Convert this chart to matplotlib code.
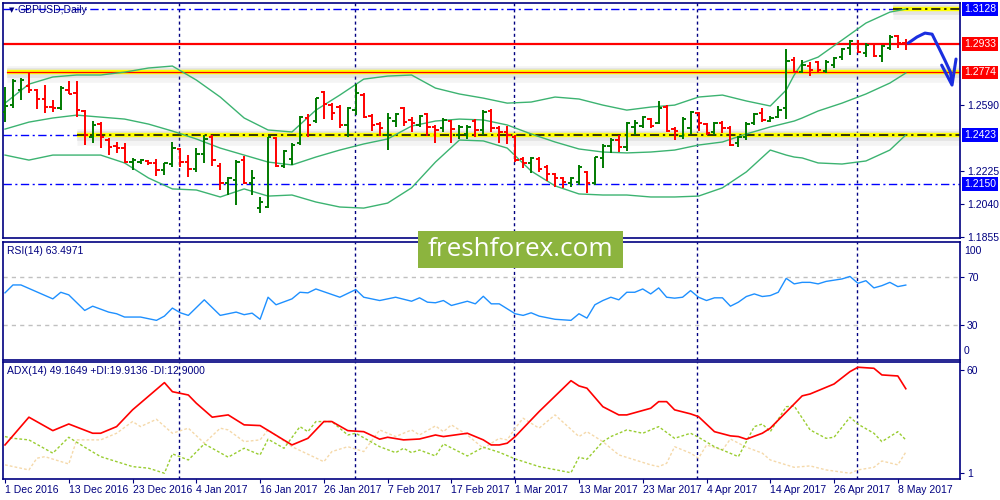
import matplotlib
matplotlib.use('Agg')
import matplotlib.pyplot as plt
import matplotlib.transforms as mtransforms
from matplotlib.patches import Rectangle

plt.rcParams['font.family'] = ['Liberation Sans', 'DejaVu Sans']

# ---- data (GBPUSD daily, 1 Dec 2016 - 9 May 2017) ----
date_labels = ['1 Dec 2016', '13 Dec 2016', '23 Dec 2016', '4 Jan 2017', '16 Jan 2017',
               '26 Jan 2017', '7 Feb 2017', '17 Feb 2017', '1 Mar 2017', '13 Mar 2017',
               '23 Mar 2017', '4 Apr 2017', '14 Apr 2017', '26 Apr 2017', '8 May 2017']
label_idx = [0, 8, 16, 24, 32, 40, 48, 56, 64, 72, 80, 88, 96, 104, 112]
month_starts = [22, 44, 64, 87, 107]

opens = [1.2553, 1.2592, 1.2676, 1.2698, 1.2676, 1.2626, 1.2581, 1.2576, 1.2676, 1.2659,
         1.2559, 1.2414, 1.2486, 1.2397, 1.2364, 1.2352, 1.2274, 1.2274, 1.2280, 1.2269,
         1.2230, 1.2263, 1.2347, 1.2274, 1.2235, 1.2319, 1.2414, 1.2252, 1.2157, 1.2174,
         1.2285, 1.2157, 1.2017, 1.2023, 1.2408, 1.2252, 1.2291, 1.2380, 1.2520, 1.2503,
         1.2665, 1.2592, 1.2581, 1.2481, 1.2564, 1.2648, 1.2531, 1.2486, 1.2425, 1.2503,
         1.2576, 1.2509, 1.2481, 1.2542, 1.2470, 1.2464, 1.2503, 1.2425, 1.2431, 1.2503,
         1.2453, 1.2559, 1.2464, 1.2442, 1.2414, 1.2291, 1.2269, 1.2291, 1.2246, 1.2208,
         1.2185, 1.2157, 1.2163, 1.2219, 1.2157, 1.2297, 1.2364, 1.2397, 1.2358, 1.2470,
         1.2475, 1.2514, 1.2492, 1.2581, 1.2458, 1.2419, 1.2464, 1.2548, 1.2486, 1.2442,
         1.2492, 1.2464, 1.2380, 1.2414, 1.2492, 1.2548, 1.2503, 1.2525, 1.2576, 1.2843,
         1.2776, 1.2810, 1.2832, 1.2782, 1.2815, 1.2860, 1.2910, 1.2933, 1.2883, 1.2933,
         1.2866, 1.2910, 1.2977, 1.2938]
highs = [1.2693, 1.2737, 1.2743, 1.2771, 1.2682, 1.2704, 1.2620, 1.2698, 1.2726, 1.2726,
         1.2564, 1.2503, 1.2497, 1.2408, 1.2386, 1.2380, 1.2297, 1.2291, 1.2285, 1.2291,
         1.2269, 1.2386, 1.2352, 1.2313, 1.2352, 1.2425, 1.2425, 1.2269, 1.2191, 1.2285,
         1.2308, 1.2230, 1.2079, 1.2414, 1.2414, 1.2341, 1.2380, 1.2531, 1.2542, 1.2631,
         1.2670, 1.2603, 1.2592, 1.2581, 1.2709, 1.2659, 1.2542, 1.2497, 1.2548, 1.2548,
         1.2581, 1.2525, 1.2536, 1.2548, 1.2481, 1.2520, 1.2509, 1.2481, 1.2481, 1.2514,
         1.2564, 1.2570, 1.2475, 1.2475, 1.2425, 1.2302, 1.2302, 1.2302, 1.2258, 1.2213,
         1.2191, 1.2191, 1.2258, 1.2224, 1.2302, 1.2375, 1.2408, 1.2425, 1.2497, 1.2509,
         1.2531, 1.2520, 1.2615, 1.2592, 1.2470, 1.2525, 1.2559, 1.2553, 1.2492, 1.2497,
         1.2503, 1.2475, 1.2419, 1.2497, 1.2548, 1.2576, 1.2531, 1.2587, 1.2905, 1.2860,
         1.2843, 1.2832, 1.2838, 1.2843, 1.2860, 1.2910, 1.2955, 1.2955, 1.2938, 1.2938,
         1.2927, 1.2983, 1.2983, 1.2961]
lows = [1.2497, 1.2576, 1.2620, 1.2659, 1.2570, 1.2548, 1.2553, 1.2564, 1.2654, 1.2525,
        1.2369, 1.2380, 1.2352, 1.2313, 1.2325, 1.2269, 1.2230, 1.2263, 1.2258, 1.2196,
        1.2202, 1.2246, 1.2246, 1.2191, 1.2219, 1.2269, 1.2252, 1.2118, 1.2090, 1.2034,
        1.2152, 1.2090, 1.1990, 1.2017, 1.2246, 1.2241, 1.2258, 1.2369, 1.2414, 1.2492,
        1.2514, 1.2509, 1.2464, 1.2414, 1.2536, 1.2520, 1.2447, 1.2419, 1.2341, 1.2470,
        1.2475, 1.2442, 1.2470, 1.2419, 1.2380, 1.2442, 1.2380, 1.2403, 1.2403, 1.2414,
        1.2425, 1.2442, 1.2380, 1.2375, 1.2274, 1.2241, 1.2213, 1.2219, 1.2169, 1.2135,
        1.2130, 1.2135, 1.2146, 1.2101, 1.2146, 1.2241, 1.2325, 1.2330, 1.2336, 1.2425,
        1.2464, 1.2464, 1.2486, 1.2442, 1.2397, 1.2403, 1.2431, 1.2447, 1.2425, 1.2425,
        1.2436, 1.2364, 1.2358, 1.2397, 1.2481, 1.2497, 1.2497, 1.2520, 1.2514, 1.2771,
        1.2771, 1.2754, 1.2771, 1.2771, 1.2799, 1.2843, 1.2871, 1.2883, 1.2860, 1.2860,
        1.2832, 1.2899, 1.2910, 1.2899]
closes = [1.2587, 1.2726, 1.2732, 1.2676, 1.2626, 1.2581, 1.2576, 1.2687, 1.2654, 1.2564,
          1.2425, 1.2481, 1.2414, 1.2358, 1.2352, 1.2274, 1.2285, 1.2285, 1.2269, 1.2230,
          1.2269, 1.2352, 1.2274, 1.2235, 1.2319, 1.2403, 1.2285, 1.2157, 1.2185, 1.2274,
          1.2157, 1.2185, 1.2051, 1.2414, 1.2252, 1.2336, 1.2369, 1.2525, 1.2481, 1.2631,
          1.2598, 1.2548, 1.2481, 1.2576, 1.2659, 1.2525, 1.2481, 1.2464, 1.2520, 1.2542,
          1.2497, 1.2492, 1.2531, 1.2470, 1.2453, 1.2509, 1.2458, 1.2470, 1.2470, 1.2453,
          1.2553, 1.2464, 1.2442, 1.2425, 1.2285, 1.2269, 1.2297, 1.2235, 1.2208, 1.2185,
          1.2163, 1.2185, 1.2246, 1.2157, 1.2302, 1.2364, 1.2397, 1.2358, 1.2492, 1.2492,
          1.2525, 1.2475, 1.2576, 1.2447, 1.2447, 1.2514, 1.2553, 1.2492, 1.2436, 1.2492,
          1.2464, 1.2369, 1.2414, 1.2486, 1.2542, 1.2509, 1.2520, 1.2564, 1.2838, 1.2776,
          1.2815, 1.2788, 1.2788, 1.2832, 1.2855, 1.2905, 1.2949, 1.2888, 1.2927, 1.2866,
          1.2922, 1.2972, 1.2938, 1.2933]

# Bollinger bands (read at sampled bars)
bb_idx = [0, 3, 6, 9, 12, 15, 18, 21, 24, 27, 30, 33, 36, 39, 42, 45, 48, 51, 54, 57,
          60, 63, 66, 69, 72, 75, 78, 81, 84, 87, 90, 93, 96, 98, 99, 100, 102, 105, 108, 111, 113]
bb_upper = [1.2603, 1.2709, 1.2749, 1.2760, 1.2760, 1.2776, 1.2799, 1.2810, 1.2732, 1.2637,
            1.2520, 1.2453, 1.2442, 1.2564, 1.2648, 1.2737, 1.2754, 1.2760, 1.2687, 1.2654,
            1.2631, 1.2603, 1.2609, 1.2637, 1.2626, 1.2592, 1.2564, 1.2581, 1.2592, 1.2637,
            1.2648, 1.2615, 1.2587, 1.2676, 1.2760, 1.2827, 1.2860, 1.2955, 1.3050, 1.3111, 1.3128]
bb_mid = [1.2458, 1.2497, 1.2520, 1.2536, 1.2525, 1.2514, 1.2486, 1.2447, 1.2403, 1.2352,
          1.2313, 1.2274, 1.2258, 1.2302, 1.2341, 1.2375, 1.2403, 1.2475, 1.2503, 1.2514,
          1.2509, 1.2481, 1.2431, 1.2386, 1.2347, 1.2330, 1.2325, 1.2330, 1.2341, 1.2369,
          1.2386, 1.2431, 1.2470, 1.2492, 1.2503, 1.2520, 1.2559, 1.2603, 1.2654, 1.2715, 1.2771]
bb_lower = [1.2313, 1.2285, 1.2313, 1.2313, 1.2313, 1.2269, 1.2185, 1.2124, 1.2118, 1.2079,
            1.2124, 1.2084, 1.2090, 1.2051, 1.2023, 1.2017, 1.2045, 1.2130, 1.2274, 1.2397,
            1.2392, 1.2352, 1.2224, 1.2141, 1.2096, 1.2090, 1.2090, 1.2079, 1.2079, 1.2084,
            1.2130, 1.2219, 1.2341, 1.2313, 1.2302, 1.2297, 1.2269, 1.2263, 1.2280, 1.2341, 1.2425]

rsi_idx = [0, 1, 2, 6, 7, 8, 10, 11, 13, 14, 15, 17, 19, 20, 21, 22, 23, 25, 27, 29,
           30, 31, 32, 33, 34, 36, 37, 38, 39, 42, 44, 45, 47, 49, 51, 52, 53, 54, 55, 56,
           58, 59, 60, 61, 62, 64, 65, 66, 67, 69, 71, 72, 73, 74, 75, 76, 77, 78, 79, 80,
           81, 82, 83, 84, 85, 86, 87, 88, 89, 90, 91, 92, 93, 94, 95, 96, 97, 98, 99, 100,
           101, 102, 103, 105, 106, 107, 108, 109, 110, 111, 112, 113]
rsi_vals = [56.9, 63.6, 63.6, 51.8, 57.4, 55.2, 42.0, 45.6, 40.6, 39.2, 36.4, 36.4, 33.6, 37.2, 44.0,
            40.0, 37.8, 51.0, 37.8, 40.6, 38.4, 39.7, 34.5, 53.2, 46.8, 51.8, 57.4, 56.9, 60.2, 53.2,
            59.7, 53.2, 50.4, 53.2, 49.8, 52.7, 49.0, 48.5, 50.4, 46.2, 49.8, 47.6, 54.0, 47.6, 47.6,
            39.2, 37.8, 40.0, 37.2, 34.5, 33.6, 39.2, 35.5, 46.8, 50.4, 53.2, 51.0, 57.4, 57.4, 60.2,
            56.0, 61.1, 53.2, 52.4, 53.2, 58.8, 53.2, 50.4, 52.7, 52.7, 45.6, 49.0, 53.8, 56.0, 53.8,
            54.6, 57.4, 69.2, 64.5, 65.8, 65.8, 64.5, 66.6, 68.7, 70.8, 65.0, 67.2, 61.1, 63.0, 65.8,
            62.2, 63.5]

adx_idx = [0, 3, 6, 8, 11, 12, 14, 16, 20, 21, 23, 24, 26, 28, 30, 32, 36, 38, 40, 41,
           43, 45, 47, 48, 50, 52, 54, 55, 58, 60, 61, 62, 63, 64, 67, 71, 72, 73, 75, 77,
           78, 81, 82, 83, 84, 86, 87, 89, 91, 92, 93, 95, 96, 100, 101, 104, 106, 107, 109, 110,
           112, 113]
adx_vals = [17.0, 32.9, 25.2, 29.0, 23.7, 23.7, 27.5, 37.1, 52.7, 47.5, 45.6, 40.9, 32.9, 34.2, 28.5,
            28.1, 17.0, 20.8, 30.4, 30.4, 25.2, 24.6, 20.3, 21.4, 19.9, 20.4, 22.7, 21.8, 23.7, 19.9,
            17.0, 17.0, 18.0, 21.8, 36.1, 53.8, 50.8, 49.5, 38.9, 34.2, 34.2, 38.0, 41.8, 41.8, 37.1,
            34.8, 33.2, 24.6, 22.2, 21.8, 20.3, 23.7, 26.6, 45.1, 46.2, 51.9, 59.0, 61.5, 60.9, 57.1,
            56.5, 49.2]
pdi_idx = [0, 1, 3, 6, 8, 10, 12, 16, 18, 20, 21, 23, 25, 28, 30, 32, 33, 35, 37, 38,
           39, 41, 43, 44, 47, 49, 50, 51, 52, 54, 55, 58, 60, 62, 64, 67, 71, 72, 73, 75,
           76, 78, 80, 82, 84, 86, 87, 89, 90, 92, 94, 95, 96, 98, 99, 101, 103, 104, 106, 107,
           109, 110, 112, 113]
pdi_vals = [21.8, 20.8, 19.9, 12.3, 21.4, 15.7, 10.3, 4.6, 3.7, 0.8, 11.9, 8.4, 17.6, 10.0, 15.1,
            11.3, 20.3, 15.1, 27.5, 24.6, 30.4, 30.4, 22.7, 23.7, 16.0, 12.6, 15.1, 12.6, 14.1, 10.7,
            17.6, 10.7, 15.7, 12.8, 9.0, 4.6, 1.1, 10.0, 8.8, 18.9, 21.8, 25.6, 23.7, 27.5, 20.8,
            23.7, 21.4, 16.0, 14.1, 10.3, 27.5, 29.0, 24.6, 38.9, 39.3, 25.6, 20.8, 21.4, 32.9, 28.9,
            23.7, 18.9, 24.6, 19.9]
mdi_idx = [0, 3, 4, 5, 8, 9, 12, 14, 16, 17, 19, 21, 23, 25, 27, 28, 30, 32, 33, 36,
           40, 41, 43, 45, 47, 49, 51, 52, 54, 55, 56, 58, 60, 62, 63, 64, 65, 67, 69, 72,
           73, 75, 77, 81, 82, 83, 84, 86, 87, 88, 90, 91, 93, 95, 96, 99, 101, 103, 106, 107,
           109, 110, 112, 113]
mdi_vals = [5.6, 2.7, 9.4, 10.3, 6.1, 19.9, 19.9, 23.7, 30.4, 27.5, 31.7, 23.7, 26.6, 18.0, 26.6,
            25.6, 18.9, 19.9, 25.6, 16.0, 7.4, 13.2, 16.0, 13.2, 25.6, 21.8, 25.6, 22.7, 27.9, 24.6,
            28.5, 22.7, 15.1, 20.8, 19.9, 26.6, 32.3, 26.6, 34.2, 21.8, 24.6, 18.9, 11.3, 5.6, 4.6,
            6.5, 16.0, 12.3, 9.4, 17.0, 14.1, 20.4, 15.7, 12.3, 8.4, 4.2, 5.0, 2.7, 0.8, 2.7,
            4.2, 7.8, 5.6, 12.9]

# levels drawn on the chart
level_resist = 1.2933
level_yellow_hi = 1.2774
level_yellow_lo = 1.2423
level_target = 1.3128
level_support = 1.2150
axis_prices = [1.1855, 1.2040, 1.2225, 1.2590]

navy = '#000080'
blue = '#0000ff'
bull = '#007a00'
bear = '#ff0000'
band = '#3cb371'
dashdot = (0, (6, 2.5, 1.5, 2.5))
xmin, xmax = -0.25, 119.8

fig = plt.figure(figsize=(10, 5), dpi=100)
fig.patch.set_facecolor('white')
ax_p = fig.add_axes([0.003, 0.524, 0.957, 0.470])
ax_r = fig.add_axes([0.003, 0.280, 0.957, 0.236])
ax_a = fig.add_axes([0.003, 0.042, 0.957, 0.234])

for ax in (ax_p, ax_r, ax_a):
    ax.set_xlim(xmin, xmax)
    for s in ax.spines.values():
        s.set_color(navy)
        s.set_linewidth(1.2)
    ax.yaxis.tick_right()
    ax.tick_params(axis='y', colors=navy, labelcolor=navy, labelsize=7.5, length=3, pad=2)
    for m in month_starts:
        ax.axvline(m - 0.15, color=navy, lw=1, ls=(0, (2.2, 2.2)), zorder=1)

# ---- price pane ----
ax_p.set_ylim(1.1850, 1.3162)
ax_p.set_xticks([])

# horizontal levels
ax_p.axhline(level_target, color=blue, lw=1, ls=dashdot, zorder=1)
ax_p.axhline(level_support, color=blue, lw=1, ls=dashdot, zorder=1)
ax_p.plot([xmin, 9], [level_yellow_lo, level_yellow_lo], color=blue, lw=1, ls=dashdot, zorder=1)

# yellow levels with a soft grey shadow
for lev, x0 in [(level_yellow_hi, 0.3), (level_yellow_lo, 9), (level_target, 111.4)]:
    ax_p.plot([x0, xmax], [lev - 0.0008, lev - 0.0008], color='0.6', lw=12, alpha=0.10,
              solid_capstyle='butt', zorder=1)
    ax_p.plot([x0, xmax], [lev - 0.0004, lev - 0.0004], color='0.6', lw=7, alpha=0.18,
              solid_capstyle='butt', zorder=1)
    ax_p.plot([x0, xmax], [lev, lev], color='#ffff00', lw=3.2, solid_capstyle='butt', zorder=2)
ax_p.plot([0.3, xmax], [level_yellow_hi, level_yellow_hi], color='#ff0000', lw=0.9, zorder=2.1)
ax_p.plot([9, xmax], [level_yellow_lo, level_yellow_lo], color='black', lw=1.1, ls=dashdot, zorder=2.1)
ax_p.plot([111.4, xmax], [level_target, level_target], color='black', lw=1.1, ls=dashdot, zorder=2.1)
ax_p.axhline(level_resist, color='#ff0000', lw=1.6, zorder=2.2)

# bollinger bands
ax_p.plot(bb_idx, bb_upper, color=band, lw=1, zorder=2.5)
ax_p.plot(bb_idx, bb_mid, color=band, lw=1, zorder=2.5)
ax_p.plot(bb_idx, bb_lower, color=band, lw=1, zorder=2.5)

# OHLC bars
for i in range(len(opens)):
    col = bull if closes[i] >= opens[i] else bear
    ax_p.plot([i, i], [lows[i], highs[i]], color=col, lw=1.4, solid_capstyle='butt', zorder=3)
    ax_p.plot([i - 0.42, i], [opens[i], opens[i]], color=col, lw=1.4, solid_capstyle='butt', zorder=3)
    ax_p.plot([i, i + 0.42], [closes[i], closes[i]], color=col, lw=1.4, solid_capstyle='butt', zorder=3)

# hand drawn forecast arrow
arrow_x = [113.3, 114.4, 115.4, 116.3, 117.1, 117.9, 118.6, 118.8]
arrow_y = [1.2938, 1.2972, 1.2994, 1.2988, 1.2916, 1.2843, 1.2776, 1.2721]
ax_p.plot(arrow_x, arrow_y, color='#1a2ee0', lw=2.2, solid_capstyle='round', zorder=4, clip_on=False)
ax_p.plot([117.5, 118.8, 119.3], [1.2815, 1.2704, 1.2849], color='#1a2ee0', lw=2.2,
          solid_capstyle='round', solid_joinstyle='round', zorder=4, clip_on=False)

ax_p.set_yticks(axis_prices)
ax_p.set_yticklabels([f'{p:.4f}' for p in axis_prices])

yt = mtransforms.blended_transform_factory(ax_p.transAxes, ax_p.transData)
for val, fc in [(level_target, blue), (level_resist, '#ff0000'), (level_yellow_hi, '#ff0000'),
                (level_yellow_lo, blue), (level_support, blue)]:
    ax_p.text(1.004, val, f'{val:.4f}', transform=yt, ha='left', va='center', fontsize=7.5,
              color='white', clip_on=False, zorder=6,
              bbox=dict(boxstyle='square,pad=0.18', fc=fc, ec='none'))

# ---- RSI pane ----
ax_r.set_ylim(0, 100)
ax_r.set_xticks([])
ax_r.axhline(70, color='#c0c0c0', lw=1, ls=(0, (3, 3)))
ax_r.axhline(30, color='#c0c0c0', lw=1, ls=(0, (3, 3)))
ax_r.plot(rsi_idx, rsi_vals, color='#1e90ff', lw=1, zorder=3)
ax_r.set_yticks([30, 70])
ax_r.set_yticklabels(['30', '70'])
rt = mtransforms.blended_transform_factory(ax_r.transAxes, ax_r.transData)
ax_r.text(1.004, 97, '100', transform=rt, ha='left', va='top', fontsize=7.5, color=navy)
ax_r.text(1.004, 3, '0', transform=rt, ha='left', va='bottom', fontsize=7.5, color=navy)

# ---- ADX pane ----
ax_a.set_ylim(-2.5, 64.5)
ax_a.plot(mdi_idx, mdi_vals, color='#f5d9aa', lw=1, ls=(0, (2, 1.5)), zorder=2)
ax_a.plot(pdi_idx, pdi_vals, color='#9acd32', lw=1, ls=(0, (2, 1.5)), zorder=2.5)
ax_a.plot(adx_idx, adx_vals, color='#ff0000', lw=1.2, zorder=3)
ax_a.set_yticks([1, 60])
ax_a.set_yticklabels(['1', '60'])
ax_a.set_xticks(label_idx)
ax_a.set_xticklabels(date_labels, ha='left')
ax_a.tick_params(axis='x', colors=navy, labelcolor=navy, labelsize=7.5, length=3, pad=1.5)

# pane captions
fig.text(0.009, 1 - 10 / 500, '\u25bc', fontsize=5, color=navy, va='center', family='DejaVu Sans')
fig.text(0.018, 1 - 10 / 500, 'GBPUSD,Daily', fontsize=7.5, color=navy, va='center')
fig.text(0.007, 1 - 251 / 500, 'RSI(14) 63.4971', fontsize=7.5, color=navy, va='center')
fig.text(0.007, 1 - 371 / 500, 'ADX(14) 49.1649 +DI:19.9136 -DI:12.9000', fontsize=7.5,
         color=navy, va='center', zorder=5)

# watermark
fig.add_artist(Rectangle((0.418, 1 - 268 / 500), 0.205, 37 / 500, transform=fig.transFigure,
                         facecolor='#8cb43e', edgecolor='none', zorder=10))
fig.text(0.5205, 1 - 250 / 500, 'freshforex.com', fontsize=18.8, color='white', ha='center',
         va='center', family='Open Sans', zorder=11)

fig.savefig('out.png', dpi=100)
